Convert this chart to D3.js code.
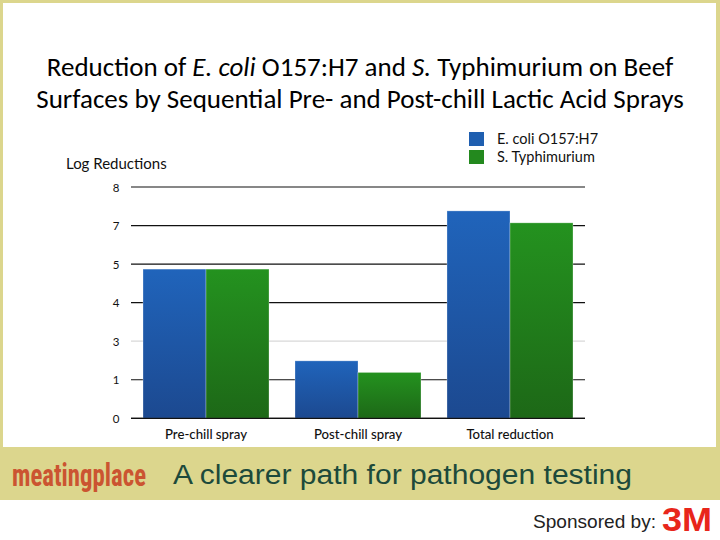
<!DOCTYPE html>
<html><head><meta charset="utf-8">
<script src="https://cdn.jsdelivr.net/npm/d3@7"></script>
<style>html,body{margin:0;padding:0;background:#fff;}svg{display:block;}</style>
</head><body><div id="c"></div>
<script>
const categories = ["Pre-chill spray", "Post-chill spray", "Total reduction"];
const seriesNames = ["E. coli O157:H7", "S. Typhimurium"];
const ecoliValues = [3.87, 1.49, 5.38];
const salmonellaValues = [3.87, 1.19, 5.07];
const yTickLabels = ["0", "1", "3", "4", "5", "7", "8"];
const yTickStyle = ["dark", "dark", "light", "dark", "dark", "dark", "dark"];

const W = 720, H = 540;
const svg = d3.select("#c").append("svg").attr("width", W).attr("height", H);
const defs = svg.append("defs");
const grads = [["gBlue", "#2064bb", "#1c4990"], ["gGreen", "#24921f", "#1d6817"]];
grads.forEach(([id, a, b]) => {
  const g = defs.append("linearGradient").attr("id", id).attr("x1", 0).attr("x2", 0).attr("y1", 0).attr("y2", 1);
  g.append("stop").attr("offset", "0%").attr("stop-color", a);
  g.append("stop").attr("offset", "100%").attr("stop-color", b);
});

// frame
const frameCol = "#dcd68d";
svg.append("rect").attr("x", 0).attr("y", 0).attr("width", W).attr("height", 500).attr("fill", frameCol);
svg.append("rect").attr("x", 3).attr("y", 3).attr("width", 713).attr("height", 444).attr("fill", "#fff");

// title
const title = svg.append("text").attr("x", 360).attr("text-anchor", "middle")
  .attr("font-family", "Carlito, Calibri, 'Open Sans', sans-serif").attr("font-size", 27).attr("fill", "#000");
const l1 = title.append("tspan").attr("x", 360).attr("y", 76);
l1.append("tspan").text("Reduction of ");
l1.append("tspan").attr("font-style", "italic").text("E. coli");
l1.append("tspan").text(" O157:H7 and ");
l1.append("tspan").attr("font-style", "italic").text("S.");
l1.append("tspan").text(" Typhimurium on Beef");
title.append("tspan").attr("x", 360).attr("y", 108).text("Surfaces by Sequential Pre- and Post-chill Lactic Acid Sprays");

// scales
const x0 = d3.scaleBand().domain(categories).range([131, 585]).paddingInner(0.171).paddingOuter(0.079);
const x1 = d3.scaleBand().domain(seriesNames).range([0, x0.bandwidth()]).padding(0);
const y = d3.scaleLinear().domain([0, yTickLabels.length - 1]).range([418.3, 187]);
const color = d3.scaleOrdinal().domain(seriesNames).range(["url(#gBlue)", "url(#gGreen)"]);
const legendColor = d3.scaleOrdinal().domain(seriesNames).range(["#1f5fb0", "#23891e"]);

// grid lines
const axisFont = "Lato, 'Open Sans', sans-serif";
const grid = svg.append("g");
grid.selectAll("line").data(d3.range(yTickLabels.length)).join("line")
  .attr("x1", 131).attr("x2", 585).attr("y1", d => y(d)).attr("y2", d => y(d))
  .attr("stroke", (d, i) => yTickStyle[i] === "light" ? "#d8d8d8" : "#111")
  .attr("stroke-width", 1.2);

// y axis labels via d3 axis
const yAxis = d3.axisLeft(y).tickValues(d3.range(yTickLabels.length)).tickFormat(i => yTickLabels[i]).tickSize(0).tickPadding(0);
const ya = svg.append("g").attr("transform", "translate(116,0)").call(yAxis);
ya.select(".domain").remove();
ya.selectAll("text").attr("font-family", axisFont).attr("font-size", 11.5).attr("fill", "#111").attr("text-anchor", "middle").attr("dy", "0.35em");

svg.append("text").attr("x", 66).attr("y", 169).attr("font-family", axisFont).attr("font-size", 15).attr("fill", "#111").text("Log Reductions");

// bars
const data = categories.map((c, i) => ({ c, vals: [ecoliValues[i], salmonellaValues[i]] }));
const groups = svg.append("g").selectAll("g").data(data).join("g").attr("transform", d => `translate(${x0(d.c)},0)`);
groups.selectAll("rect").data(d => d.vals.map((v, j) => ({ s: seriesNames[j], v }))).join("rect")
  .attr("x", d => x1(d.s)).attr("width", x1.bandwidth())
  .attr("y", d => y(d.v)).attr("height", d => y(0) - y(d.v))
  .attr("fill", d => color(d.s))
  .attr("stroke", "rgba(255,255,255,0.35)").attr("stroke-width", 0.8);
// baseline on top
svg.append("line").attr("x1", 131).attr("x2", 585).attr("y1", y(0)).attr("y2", y(0)).attr("stroke", "#111").attr("stroke-width", 1.2);

// x axis labels
const xAxis = d3.axisBottom(x0).tickSize(0).tickPadding(0);
const xa = svg.append("g").attr("transform", `translate(0,${y(0) + 21})`).call(xAxis);
xa.select(".domain").remove();
xa.selectAll("text").attr("font-family", axisFont).attr("font-size", 13.2).attr("font-weight", 500).attr("fill", "#111").attr("dy", 0);

// legend
const lg = svg.append("g");
seriesNames.forEach((s, i) => {
  lg.append("rect").attr("x", 469).attr("y", 132 + i * 18).attr("width", 15).attr("height", 14).attr("fill", legendColor(s));
  lg.append("text").attr("x", 497).attr("y", 144 + i * 18).attr("font-family", axisFont).attr("font-size", 14.5).attr("fill", "#111").text(s);
});

// footer band
svg.append("text").attr("x", 12).attr("y", 486).attr("font-family", "'Liberation Sans Narrow', 'Roboto Condensed', Roboto, sans-serif")
  .attr("font-weight", "bold").attr("font-size", 32).attr("fill", "#cb5431").attr("textLength", 134).attr("lengthAdjust", "spacingAndGlyphs").text("meatingplace");
svg.append("text").attr("x", 173).attr("y", 484).attr("font-family", "'Liberation Sans', Arial, sans-serif")
  .attr("font-size", 27).attr("fill", "#1d4a3b").attr("textLength", 459).attr("lengthAdjust", "spacingAndGlyphs").text("A clearer path for pathogen testing");
svg.append("text").attr("x", 533).attr("y", 528).attr("font-family", "'Liberation Sans Narrow', 'Liberation Sans', sans-serif")
  .attr("font-size", 19).attr("fill", "#222").attr("textLength", 123).attr("lengthAdjust", "spacingAndGlyphs").text("Sponsored by:");
svg.append("text").attr("x", 662).attr("y", 531).attr("font-family", "'Liberation Sans', Arial, sans-serif")
  .attr("font-weight", "bold").attr("font-size", 34).attr("fill", "#e8261b").attr("textLength", 50).attr("lengthAdjust", "spacingAndGlyphs").text("3M");
</script></body></html>
